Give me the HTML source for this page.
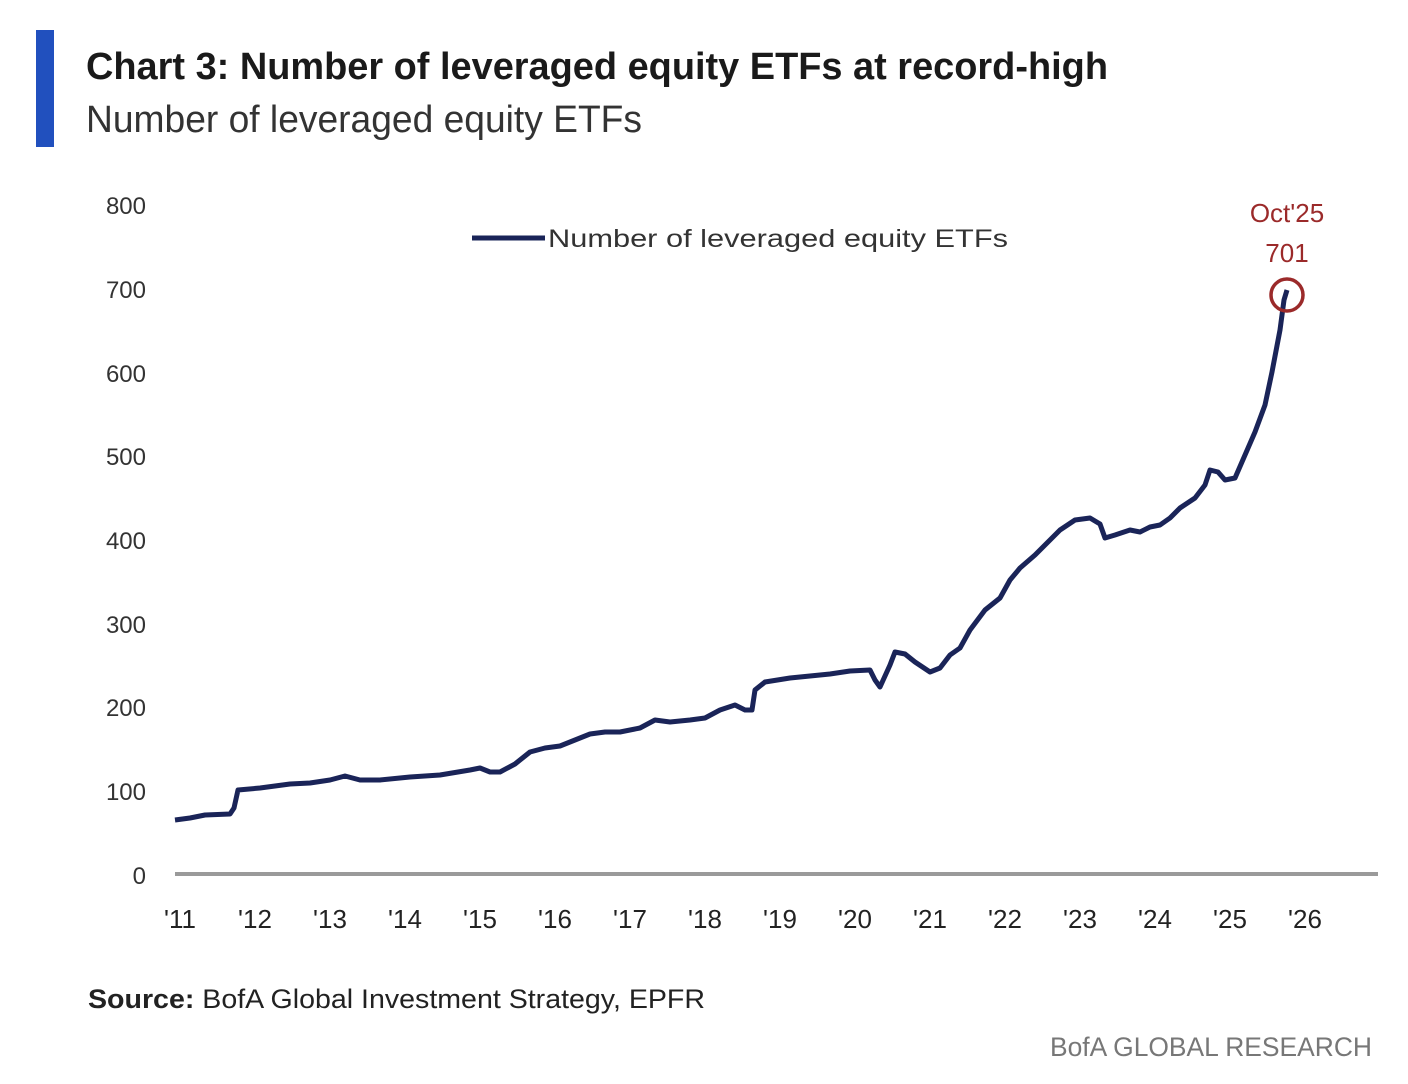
<!DOCTYPE html>
<html><head><meta charset="utf-8"><style>
html,body{margin:0;padding:0;background:#fff;}
svg{display:block;}
text{font-family:"Liberation Sans",sans-serif;}
</style></head><body>
<svg width="1408" height="1084" viewBox="0 0 1408 1084" xmlns="http://www.w3.org/2000/svg">
<rect x="0" y="0" width="1408" height="1084" fill="#fff"/>
<rect x="36" y="30" width="18" height="117" fill="#2150be"/>
<text x="86" y="79" font-size="38" font-weight="bold" fill="#1a1a1a" textLength="1022" lengthAdjust="spacingAndGlyphs">Chart 3: Number of leveraged equity ETFs at record-high</text>
<text x="86" y="132" font-size="38" fill="#333" textLength="556" lengthAdjust="spacingAndGlyphs">Number of leveraged equity ETFs</text>
<g font-size="24" fill="#333" text-anchor="end">
<text x="146" y="214">800</text><text x="146" y="298">700</text><text x="146" y="382">600</text>
<text x="146" y="465">500</text><text x="146" y="549">400</text><text x="146" y="633">300</text>
<text x="146" y="716">200</text><text x="146" y="800">100</text><text x="146" y="884">0</text>
</g>
<line x1="175" y1="874" x2="1378" y2="874" stroke="#9a9a9a" stroke-width="4"/>
<g font-size="26" fill="#222" text-anchor="middle">
<text x="180" y="928">'11</text><text x="255" y="928">'12</text><text x="330" y="928">'13</text>
<text x="405" y="928">'14</text><text x="480" y="928">'15</text><text x="555" y="928">'16</text>
<text x="630" y="928">'17</text><text x="705" y="928">'18</text><text x="780" y="928">'19</text>
<text x="855" y="928">'20</text><text x="930" y="928">'21</text><text x="1005" y="928">'22</text>
<text x="1080" y="928">'23</text><text x="1155" y="928">'24</text><text x="1230" y="928">'25</text>
<text x="1305" y="928">'26</text>
</g>
<line x1="472" y1="238" x2="545" y2="238" stroke="#1a2458" stroke-width="5"/>
<text x="548" y="247" font-size="25" fill="#333" textLength="460" lengthAdjust="spacingAndGlyphs">Number of leveraged equity ETFs</text>
<polyline fill="none" stroke="#1a2458" stroke-width="5" stroke-linejoin="round" points="175,820 190,818 205,815 230,814 234,808 238,790 260,788 290,784 310,783 330,780 345,776 360,780 380,780 410,777 440,775 470,770 480,768 490,772 500,772 515,764 530,752 545,748 560,746 575,740 590,734 605,732 620,732 640,728 655,720 670,722 690,720 705,718 720,710 735,705 745,710 752,710 755,690 765,682 790,678 810,676 830,674 850,671 870,670 875,680 880,687 890,665 895,652 905,654 915,662 930,672 940,668 950,655 960,648 970,630 985,610 1000,598 1010,580 1020,568 1035,555 1045,545 1060,530 1075,520 1090,518 1100,524 1105,538 1115,535 1130,530 1140,532 1150,527 1160,525 1170,518 1180,508 1195,498 1205,485 1210,470 1218,472 1225,480 1235,478 1245,455 1255,432 1265,405 1272,372 1280,330 1284,300 1287,290"/>
<circle cx="1287" cy="295" r="16" fill="none" stroke="#9b2a2a" stroke-width="3.5"/>
<text x="1287" y="222" font-size="26" fill="#9b2a2a" text-anchor="middle">Oct'25</text>
<text x="1287" y="262" font-size="26" fill="#9b2a2a" text-anchor="middle">701</text>
<text x="88" y="1008" font-size="27" fill="#222" textLength="617" lengthAdjust="spacingAndGlyphs"><tspan font-weight="bold">Source:</tspan> BofA Global Investment Strategy, EPFR</text>
<text x="1372" y="1056" font-size="27" fill="#777" text-anchor="end" textLength="322" lengthAdjust="spacingAndGlyphs">BofA GLOBAL RESEARCH</text>
</svg>
</body></html>
